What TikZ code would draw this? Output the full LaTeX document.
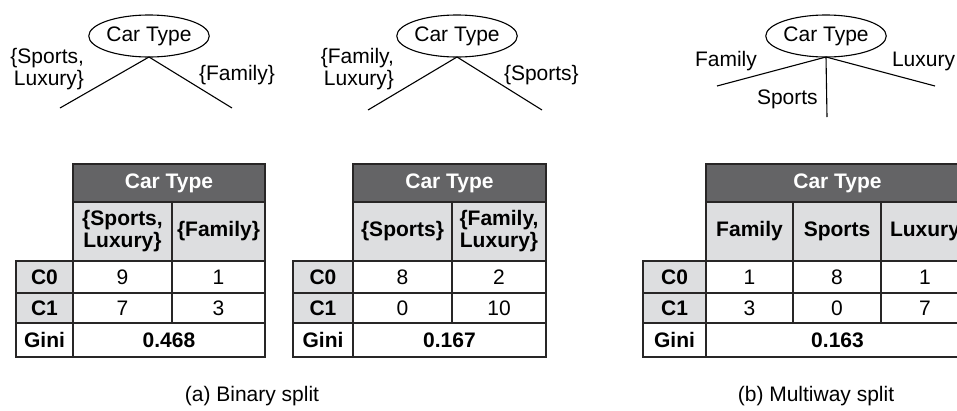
\documentclass[tikz,border=0pt]{standalone}
\usepackage{fontspec}
\setmainfont{Liberation Sans}
\usetikzlibrary{shapes.geometric}

\tikzset{
    every node/.style={font=\fontsize{21}{22}\selectfont, inner sep=0pt, outer sep=0pt},
    cartype/.style={draw, ellipse, line width=1.1pt, minimum width=115pt, minimum height=42pt},
    branch/.style={line width=1.1pt},
    cellbox/.style={draw=tabline, line width=1.4pt, anchor=north west, align=center},
    headcell/.style={cellbox, fill=headgray, text=white, font=\fontsize{21}{22}\selectfont\bfseries},
    subcell/.style={cellbox, fill=subgray, font=\fontsize{21}{22}\selectfont\bfseries},
    rowcell/.style={cellbox, fill=subgray, font=\fontsize{21}{22}\selectfont\bfseries, minimum width=57pt},
    valcell/.style={cellbox, fill=white},
    ginicell/.style={cellbox, fill=white, font=\fontsize{21}{22}\selectfont\bfseries}
}

\begin{document}
\begin{tikzpicture}[x=1pt, y=-1pt]

    \definecolor{headgray}{RGB}{100,100,102}
    \definecolor{subgray}{RGB}{221,222,224}
    \definecolor{tabline}{RGB}{40,38,38}

    \useasboundingbox (0,0) rectangle (957,410);
    \clip (0,0) rectangle (957,410);

    % Draw the first binary split
    \node[cartype] (ta) at (149,36) {Car Type};
    \coordinate (ta1) at (60,108);
    \coordinate (ta2) at (232,108);
    \draw[branch] (ta.south) -- (ta1);
    \draw[branch] (ta.south) -- (ta2);
    \node[anchor=east, align=right] (tala) at (84,69.5) {\{Sports,\\Luxury\}};
    \node[anchor=base west] (talb) at (199,80) {\{Family\}};

    % Draw the second binary split
    \node[cartype] (tb) at (457,36) {Car Type};
    \coordinate (tb1) at (368,110);
    \coordinate (tb2) at (542,110);
    \draw[branch] (tb.south) -- (tb1);
    \draw[branch] (tb.south) -- (tb2);
    \node[anchor=east, align=right] (tbla) at (394,69) {\{Family,\\Luxury\}};
    \node[anchor=base west] (tblb) at (504,80) {\{Sports\}};

    % Draw the multiway split
    \node[cartype] (tc) at (826,36) {Car Type};
    \coordinate (tc1) at (717,86);
    \coordinate (tc2) at (827,117);
    \coordinate (tc3) at (935,86);
    \draw[branch] (tc.south) -- (tc1);
    \draw[branch] (tc.south) -- (tc2);
    \draw[branch] (tc.south) -- (tc3);
    \node[anchor=base west] (tcla) at (695,66) {Family};
    \node[anchor=base west] (tclb) at (757,104) {Sports};
    \node[anchor=base west] (tclc) at (892,66) {Luxury};

    % Draw the table of the first binary split
    \node[headcell, minimum width=192pt, minimum height=38pt] (ahead) at (73,164) {Car Type};
    \node[subcell, minimum width=99pt, minimum height=59pt] (asub1) at (73,202) {\{Sports,\\Luxury\}};
    \node[subcell, minimum width=93pt, minimum height=59pt] (asub2) at (172,202) {\{Family\}};
    \node[rowcell, minimum height=32pt] (arow0) at (16,261) {C0};
    \node[valcell, minimum width=99pt, minimum height=32pt] (a00) at (73,261) {9};
    \node[valcell, minimum width=93pt, minimum height=32pt] (a01) at (172,261) {1};
    \node[rowcell, minimum height=30pt] (arow1) at (16,293) {C1};
    \node[valcell, minimum width=99pt, minimum height=30pt] (a10) at (73,293) {7};
    \node[valcell, minimum width=93pt, minimum height=30pt] (a11) at (172,293) {3};
    \node[ginicell, minimum width=57pt, minimum height=34pt] (agini) at (16,323) {Gini};
    \node[ginicell, minimum width=192pt, minimum height=34pt] (aginiv) at (73,323) {0.468};

    % Draw the table of the second binary split
    \node[headcell, minimum width=193pt, minimum height=38pt] (bhead) at (353,164) {Car Type};
    \node[subcell, minimum width=99pt, minimum height=59pt] (bsub1) at (353,202) {\{Sports\}};
    \node[subcell, minimum width=94pt, minimum height=59pt] (bsub2) at (452,202) {\{Family,\\Luxury\}};
    \node[rowcell, minimum width=60pt, minimum height=32pt] (brow0) at (293,261) {C0};
    \node[valcell, minimum width=99pt, minimum height=32pt] (b00) at (353,261) {8};
    \node[valcell, minimum width=94pt, minimum height=32pt] (b01) at (452,261) {2};
    \node[rowcell, minimum width=60pt, minimum height=30pt] (brow1) at (293,293) {C1};
    \node[valcell, minimum width=99pt, minimum height=30pt] (b10) at (353,293) {0};
    \node[valcell, minimum width=94pt, minimum height=30pt] (b11) at (452,293) {10};
    \node[ginicell, minimum width=60pt, minimum height=34pt] (bgini) at (293,323) {Gini};
    \node[ginicell, minimum width=193pt, minimum height=34pt] (bginiv) at (353,323) {0.167};

    % Draw the table of the multiway split
    \node[headcell, minimum width=263pt, minimum height=38pt] (chead) at (706,164) {Car Type};
    \node[subcell, minimum width=87pt, minimum height=59pt] (csub1) at (706,202) {Family};
    \node[subcell, minimum width=88pt, minimum height=59pt] (csub2) at (793,202) {Sports};
    \node[subcell, minimum width=88pt, minimum height=59pt] (csub3) at (881,202) {Luxury};
    \node[rowcell, minimum width=63pt, minimum height=32pt] (crow0) at (643,261) {C0};
    \node[valcell, minimum width=87pt, minimum height=32pt] (c00) at (706,261) {1};
    \node[valcell, minimum width=88pt, minimum height=32pt] (c01) at (793,261) {8};
    \node[valcell, minimum width=88pt, minimum height=32pt] (c02) at (881,261) {1};
    \node[rowcell, minimum width=63pt, minimum height=30pt] (crow1) at (643,293) {C1};
    \node[valcell, minimum width=87pt, minimum height=30pt] (c10) at (706,293) {3};
    \node[valcell, minimum width=88pt, minimum height=30pt] (c11) at (793,293) {0};
    \node[valcell, minimum width=88pt, minimum height=30pt] (c12) at (881,293) {7};
    \node[ginicell, minimum width=63pt, minimum height=34pt] (cgini) at (643,323) {Gini};
    \node[ginicell, minimum width=263pt, minimum height=34pt] (cginiv) at (706,323) {0.163};

    % Draw the captions
    \node[anchor=base] (capa) at (252,401) {(a) Binary split};
    \node[anchor=base] (capb) at (816,401) {(b) Multiway split};

\end{tikzpicture}
\end{document}
